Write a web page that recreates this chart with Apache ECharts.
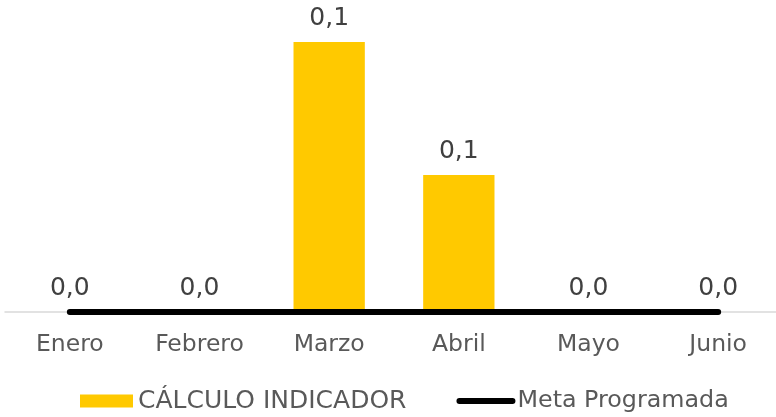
<!DOCTYPE html>
<html>
<head>
<meta charset="utf-8">
<script src="https://cdn.jsdelivr.net/npm/echarts@6/dist/echarts.min.js"></script>
<style>html,body{margin:0;padding:0;background:#fff}#c{width:776px;height:417px}</style>
</head>
<body>
<div id="c"></div>
<script>
const categories = ['Enero', 'Febrero', 'Marzo', 'Abril', 'Mayo', 'Junio'];
const calculoIndicador = [0, 0, 0.14, 0.071, 0, 0];
const metaProgramada = [0, 0, 0, 0, 0, 0];
const seriesNames = ['CÁLCULO INDICADOR', 'Meta Programada'];

const FONT = 'DejaVu Sans';
const chart = echarts.init(document.getElementById('c'), null, {renderer: 'canvas'});
chart.setOption({
  animation: false,
  textStyle: {fontFamily: FONT},
  grid: {left: 5, width: 778, top: 22.7, bottom: 105, containLabel: false, outerBoundsMode: 'none'},
  legend: {
    data: [
      {name: seriesNames[0], icon: 'rect'},
      {name: seriesNames[1], lineStyle: {width: 6, cap: 'round', color: '#000'}, itemStyle: {opacity: 0}}
    ],
    left: 75, top: 383.5,
    itemWidth: 53, itemHeight: 13, itemGap: 50,
    lineStyle: {width: 6, cap: 'round'},
    formatter: name => name === seriesNames[0] ? '{a|' + name + '}' : '{b|' + name + '}',
    textStyle: {
      fontFamily: FONT, fontSize: 25, color: '#595959',
      rich: {
        a: {fontFamily: FONT, fontSize: 25, color: '#595959'},
        b: {fontFamily: FONT, fontSize: 23.8, color: '#595959'}
      }
    }
  },
  xAxis: {
    type: 'category', data: categories,
    axisLine: {lineStyle: {color: '#d9d9d9', width: 1.5}},
    axisTick: {show: false},
    axisLabel: {fontFamily: FONT, fontSize: 23.5, color: '#595959', margin: 21}
  },
  yAxis: {type: 'value', min: 0, max: 0.15, show: false, splitLine: {show: false}},
  series: [
    {
      name: seriesNames[0], type: 'bar', data: calculoIndicador, barWidth: '55%',
      itemStyle: {color: '#FFC900'},
      label: {
        show: true, position: 'top', distance: 11,
        fontFamily: FONT, fontSize: 25, color: '#404040',
        formatter: p => p.value.toFixed(1).replace('.', ',')
      }
    },
    {
      name: seriesNames[1], type: 'line', data: metaProgramada, symbol: 'none',
      lineStyle: {color: '#000', width: 6, cap: 'round'},
      itemStyle: {color: '#000'}, z: 5
    }
  ]
});
</script>
</body>
</html>
